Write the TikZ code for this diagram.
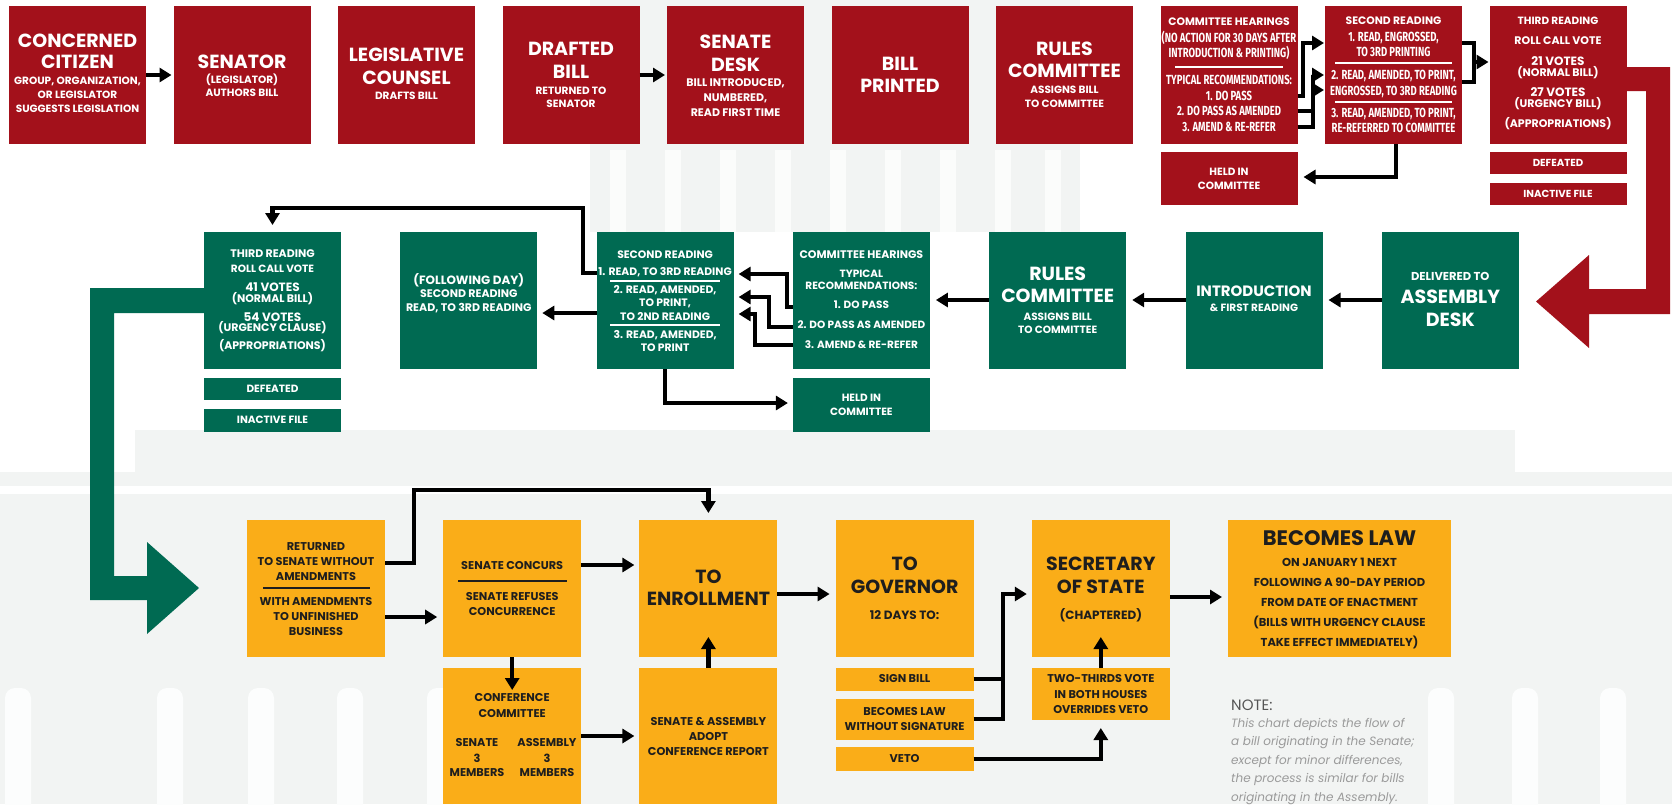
\documentclass[tikz,border=0pt]{standalone}
\usepackage{fontspec}
\setmainfont{Poppins}
\newfontfamily\condf{Fira Sans}[FakeStretch=0.72]
\usetikzlibrary{arrows.meta}
\definecolor{cred}{HTML}{A3111B}
\definecolor{cgreen}{HTML}{006A52}
\definecolor{cyel}{HTML}{FAAD18}
\definecolor{ctxt}{HTML}{1E1E1E}
\definecolor{bgg}{HTML}{F2F4F3}
\definecolor{notec}{HTML}{9A9A9A}
\tikzset{
 box/.style={rectangle,draw=none,inner sep=0pt,outer sep=0pt,anchor=north west},
 arr/.style={line width=4.5pt,-{Triangle[length=12pt,width=14pt]},shorten >=4pt},
 ln/.style={line width=4.5pt},
 sepw/.style={white,line width=1.3pt},
 sepd/.style={ctxt,line width=2pt},
 notel/.style={anchor=base west,inner sep=0pt,text=notec,font=\fontsize{12}{12}\selectfont\itshape},
}
\newcommand\bx[6]{\node[box,fill=#6,minimum width=#4pt,minimum height=#5pt] (#1) at (#2,#3) {};}
\newcommand\tx[6]{\node[anchor=base,inner sep=0pt,text=#5,font=\fontsize{#4}{#4}\selectfont\bfseries] (#1) at (#2,{#3+0.35*#4}) {#6};}
\newcommand\cx[6]{\node[anchor=base,inner sep=0pt,text=#5,font=\condf\fontsize{#4}{#4}\selectfont\bfseries] (#1) at (#2,{#3+0.34*#4}) {#6};}
\def\sm{10.5}
\def\ys{11.3}
\def\cz{13.2}
\begin{document}
\begin{tikzpicture}[x=1pt,y=-1pt]
\useasboundingbox (0,0) rectangle (1672,804);
\fill[white] (0,0) rectangle (1672,804);
% ---------- faint background (capitol silhouette) ----------
\fill[bgg] (590,0) rectangle (1080,232);
\foreach \c in {610,665,720,775,830,885,940,995,1045}{\fill[white!70!bgg] (\c,150) rectangle ++(16,82);}
\fill[bgg] (135,430) rectangle (1515,472);
\fill[bgg] (0,472) rectangle (1672,804);
\fill[white] (0,486) rectangle (1672,494);
\foreach \c in {5,157,248,337,427,1428,1512,1600}{\fill[white!80!bgg,rounded corners=10pt] (\c,688) rectangle ++(26,130);}
% ---------- top row (red) ----------
\bx{cit}{9}{6}{137}{138}{cred}
\bx{sen}{173.5}{6}{137}{138}{cred}
\bx{leg}{338}{6}{137}{138}{cred}
\bx{dra}{502.5}{6}{137}{138}{cred}
\bx{sdk}{667}{6}{137}{138}{cred}
\bx{bpr}{831.5}{6}{137}{138}{cred}
\bx{rul}{996}{6}{137}{138}{cred}
\bx{chr}{1160.5}{6}{137}{138}{cred}
\bx{srr}{1325}{6}{137}{138}{cred}
\bx{trr}{1489.5}{6}{137}{138}{cred}
\bx{hicr}{1160.5}{152}{137}{53}{cred}
\bx{defr}{1489.5}{152}{137}{22}{cred}
\bx{inar}{1489.5}{183}{137}{22}{cred}
% ---------- green row ----------
\bx{gtr}{204}{232}{137}{137}{cgreen}
\bx{gfd}{400.3}{232}{137}{137}{cgreen}
\bx{gsr}{596.6}{232}{137}{137}{cgreen}
\bx{gch}{792.9}{232}{137}{137}{cgreen}
\bx{gru}{989.2}{232}{137}{137}{cgreen}
\bx{gin}{1185.5}{232}{137}{137}{cgreen}
\bx{gad}{1381.8}{232}{137}{137}{cgreen}
\bx{gdef}{204}{378}{137}{22}{cgreen}
\bx{gina}{204}{409}{137}{23}{cgreen}
\bx{ghic}{792.9}{378}{137}{54}{cgreen}
% ---------- yellow row ----------
\bx{yre}{247}{520}{138}{137}{cyel}
\bx{ysc}{443.2}{520}{138}{137}{cyel}
\bx{yen}{639.4}{520}{138}{137}{cyel}
\bx{ygo}{835.6}{520}{138}{137}{cyel}
\bx{yss}{1031.8}{520}{138}{137}{cyel}
\bx{ybl}{1228}{520}{223}{137}{cyel}
\bx{yconf}{443.2}{668}{138}{136}{cyel}
\bx{yadopt}{639.4}{668}{138}{136}{cyel}
\bx{ysign}{835.6}{668}{138}{23}{cyel}
\bx{yblws}{835.6}{699}{138}{41}{cyel}
\bx{yveto}{835.6}{747}{138}{24}{cyel}
\bx{ytwo}{1031.8}{668}{138}{52}{cyel}
% ---------- block arrows ----------
\fill[cred] (trr.east |- 0,67) -- (1670,67) -- (1670,314) -- (1589,314) -- (1589,348) -- (1536,301.5) -- (1589,255) -- (1589,289) -- (1646,289) -- (1646,91) -- (trr.east |- 0,91) -- cycle;
\fill[cgreen] (gtr.west |- 0,288) -- (90,288) -- (90,600) -- (147,600) -- (147,634) -- (199,588) -- (147,542) -- (147,576) -- (114,576) -- (114,313) -- (gtr.west |- 0,313) -- cycle;
% ---------- top row texts ----------
\tx{cit-a}{77.5}{41}{19}{white}{CONCERNED}
\tx{cit-b}{77.5}{62}{19}{white}{CITIZEN}
\tx{cit-c}{77.5}{81}{\sm}{white}{GROUP, ORGANIZATION,}
\tx{cit-d}{77.5}{95}{\sm}{white}{OR LEGISLATOR}
\tx{cit-e}{77.5}{109}{\sm}{white}{SUGGESTS LEGISLATION}
\tx{sen-a}{242}{62}{19}{white}{SENATOR}
\tx{sen-b}{242}{80}{\sm}{white}{(LEGISLATOR)}
\tx{sen-c}{242}{93}{\sm}{white}{AUTHORS BILL}
\tx{leg-a}{406.5}{55}{19}{white}{LEGISLATIVE}
\tx{leg-b}{406.5}{78}{19}{white}{COUNSEL}
\tx{leg-c}{406.5}{96}{\sm}{white}{DRAFTS BILL}
\tx{dra-a}{571}{49}{19}{white}{DRAFTED}
\tx{dra-b}{571}{72}{19}{white}{BILL}
\tx{dra-c}{571}{91}{\sm}{white}{RETURNED TO}
\tx{dra-d}{571}{104}{\sm}{white}{SENATOR}
\tx{sdk-a}{735.5}{42}{19}{white}{SENATE}
\tx{sdk-b}{735.5}{65}{19}{white}{DESK}
\tx{sdk-c}{735.5}{83}{11}{white}{BILL INTRODUCED,}
\tx{sdk-d}{735.5}{98}{11}{white}{NUMBERED,}
\tx{sdk-e}{735.5}{113}{11}{white}{READ FIRST TIME}
\tx{bpr-a}{900}{64}{19}{white}{BILL}
\tx{bpr-b}{900}{86}{19}{white}{PRINTED}
\tx{rul-a}{1064.5}{49}{19}{white}{RULES}
\tx{rul-b}{1064.5}{71}{19}{white}{COMMITTEE}
\tx{rul-c}{1064.5}{90}{\sm}{white}{ASSIGNS BILL}
\tx{rul-d}{1064.5}{104}{\sm}{white}{TO COMMITTEE}
\tx{chr-a}{1229}{22}{10.8}{white}{COMMITTEE HEARINGS}
\cx{chr-b}{1229}{38}{\cz}{white}{(NO ACTION FOR 30 DAYS AFTER}
\cx{chr-c}{1229}{53}{\cz}{white}{INTRODUCTION \& PRINTING)}
\draw[sepw] (1175,67) -- (1283,67);
\cx{chr-d}{1229}{80}{\cz}{white}{TYPICAL RECOMMENDATIONS:}
\cx{chr-e}{1229}{96}{\cz}{white}{1. DO PASS}
\cx{chr-f}{1229}{111}{\cz}{white}{2. DO PASS AS AMENDED}
\cx{chr-g}{1229}{127}{\cz}{white}{3. AMEND \& RE-REFER}
\tx{srr-a}{1393.5}{21}{10.8}{white}{SECOND READING}
\cx{srr-b}{1393.5}{37}{\cz}{white}{1. READ, ENGROSSED,}
\cx{srr-c}{1393.5}{52}{\cz}{white}{TO 3RD PRINTING}
\draw[sepw] (1335,63) -- (1452,63);
\cx{srr-d}{1393.5}{75}{\cz}{white}{2. READ, AMENDED, TO PRINT,}
\cx{srr-e}{1393.5}{91}{\cz}{white}{ENGROSSED, TO 3RD READING}
\draw[sepw] (1335,102) -- (1452,102);
\cx{srr-f}{1393.5}{113}{\cz}{white}{3. READ, AMENDED, TO PRINT,}
\cx{srr-g}{1393.5}{128}{\cz}{white}{RE-REFERRED TO COMMITTEE}
\tx{trr-a}{1558}{21}{10.5}{white}{THIRD READING}
\tx{trr-b}{1558}{41}{11}{white}{ROLL CALL VOTE}
\tx{trr-c}{1558}{61}{12}{white}{21 VOTES}
\tx{trr-d}{1558}{73}{11}{white}{(NORMAL BILL)}
\tx{trr-e}{1558}{92}{12}{white}{27 VOTES}
\tx{trr-f}{1558}{104}{11}{white}{(URGENCY BILL)}
\tx{trr-g}{1558}{124}{11}{white}{(APPROPRIATIONS)}
\tx{hicr-a}{1229}{172}{\sm}{white}{HELD IN}
\tx{hicr-b}{1229}{186}{\sm}{white}{COMMITTEE}
\tx{defr-a}{1558}{163}{10.2}{white}{DEFEATED}
\tx{inar-a}{1558}{194}{10.2}{white}{INACTIVE FILE}
% ---------- green texts ----------
\tx{gtr-a}{272.5}{254}{11}{white}{THIRD READING}
\tx{gtr-b}{272.5}{269}{10.5}{white}{ROLL CALL VOTE}
\tx{gtr-c}{272.5}{287}{12}{white}{41 VOTES}
\tx{gtr-d}{272.5}{299}{11}{white}{(NORMAL BILL)}
\tx{gtr-e}{272.5}{317}{12}{white}{54 VOTES}
\tx{gtr-f}{272.5}{328}{11}{white}{(URGENCY CLAUSE)}
\tx{gtr-g}{272.5}{346}{11}{white}{(APPROPRIATIONS)}
\tx{gdef-a}{272.5}{389}{10.5}{white}{DEFEATED}
\tx{gina-a}{272.5}{420}{10.5}{white}{INACTIVE FILE}
\tx{gfd-a}{468.8}{280}{12}{white}{(FOLLOWING DAY)}
\tx{gfd-b}{468.8}{294}{11}{white}{SECOND READING}
\tx{gfd-c}{468.8}{308}{11}{white}{READ, TO 3RD READING}
\tx{gsr-a}{665.1}{255}{10.8}{white}{SECOND READING}
\tx{gsr-b}{665.1}{272}{10.8}{white}{1. READ, TO 3RD READING}
\draw[sepw] (610,281) -- (720,281);
\tx{gsr-c}{665.1}{290}{10.8}{white}{2. READ, AMENDED,}
\tx{gsr-d}{665.1}{303}{10.8}{white}{TO PRINT,}
\tx{gsr-e}{665.1}{317}{10.8}{white}{TO 2ND READING}
\draw[sepw] (610,325) -- (720,325);
\tx{gsr-f}{665.1}{335}{10.8}{white}{3. READ, AMENDED,}
\tx{gsr-g}{665.1}{348}{10.8}{white}{TO PRINT}
\tx{gch-a}{861.4}{255}{11}{white}{COMMITTEE HEARINGS}
\tx{gch-b}{861.4}{274}{\sm}{white}{TYPICAL}
\tx{gch-c}{861.4}{286}{\sm}{white}{RECOMMENDATIONS:}
\tx{gch-d}{861.4}{305}{\sm}{white}{1. DO PASS}
\tx{gch-e}{861.4}{325}{\sm}{white}{2. DO PASS AS AMENDED}
\tx{gch-f}{861.4}{345}{\sm}{white}{3. AMEND \& RE-REFER}
\tx{gru-a}{1057.7}{274}{19}{white}{RULES}
\tx{gru-b}{1057.7}{296}{19}{white}{COMMITTEE}
\tx{gru-c}{1057.7}{317}{\sm}{white}{ASSIGNS BILL}
\tx{gru-d}{1057.7}{330}{\sm}{white}{TO COMMITTEE}
\tx{gin-a}{1254}{291}{15}{white}{INTRODUCTION}
\tx{gin-b}{1254}{308}{\sm}{white}{\& FIRST READING}
\tx{gad-a}{1450.3}{276}{11.5}{white}{DELIVERED TO}
\tx{gad-b}{1450.3}{297}{19}{white}{ASSEMBLY}
\tx{gad-c}{1450.3}{320}{19}{white}{DESK}
\tx{ghic-a}{861.4}{398}{\sm}{white}{HELD IN}
\tx{ghic-b}{861.4}{412}{\sm}{white}{COMMITTEE}
% ---------- yellow texts ----------
\tx{yre-a}{316}{547}{\ys}{ctxt}{RETURNED}
\tx{yre-b}{316}{562}{\ys}{ctxt}{TO SENATE WITHOUT}
\tx{yre-c}{316}{577}{\ys}{ctxt}{AMENDMENTS}
\draw[sepd] (263,588) -- (370,588);
\tx{yre-d}{316}{602}{\ys}{ctxt}{WITH AMENDMENTS}
\tx{yre-e}{316}{617}{\ys}{ctxt}{TO UNFINISHED}
\tx{yre-f}{316}{632}{\ys}{ctxt}{BUSINESS}
\tx{ysc-a}{512.2}{566}{\ys}{ctxt}{SENATE CONCURS}
\draw[sepd] (458,581) -- (567,581);
\tx{ysc-b}{512.2}{597}{\ys}{ctxt}{SENATE REFUSES}
\tx{ysc-c}{512.2}{612}{\ys}{ctxt}{CONCURRENCE}
\tx{yen-a}{708.4}{577}{19}{ctxt}{TO}
\tx{yen-b}{708.4}{599}{19}{ctxt}{ENROLLMENT}
\tx{ygo-a}{904.6}{564}{19}{ctxt}{TO}
\tx{ygo-b}{904.6}{587}{19}{ctxt}{GOVERNOR}
\tx{ygo-c}{904.6}{615}{12}{ctxt}{12 DAYS TO:}
\tx{yss-a}{1100.8}{564}{19}{ctxt}{SECRETARY}
\tx{yss-b}{1100.8}{587}{19}{ctxt}{OF STATE}
\tx{yss-c}{1100.8}{615}{12}{ctxt}{(CHAPTERED)}
\tx{ybl-a}{1339.5}{538}{21}{ctxt}{BECOMES LAW}
\tx{ybl-b}{1339.5}{562}{11.5}{ctxt}{ON JANUARY 1 NEXT}
\tx{ybl-c}{1339.5}{582}{11.5}{ctxt}{FOLLOWING A 90-DAY PERIOD}
\tx{ybl-d}{1339.5}{602}{11.5}{ctxt}{FROM DATE OF ENACTMENT}
\tx{ybl-e}{1339.5}{622}{11.5}{ctxt}{(BILLS WITH URGENCY CLAUSE}
\tx{ybl-f}{1339.5}{642}{11.5}{ctxt}{TAKE EFFECT IMMEDIATELY)}
\tx{yconf-a}{512.2}{698}{\ys}{ctxt}{CONFERENCE}
\tx{yconf-b}{512.2}{714}{\ys}{ctxt}{COMMITTEE}
\tx{yconf-c}{477}{743}{\ys}{ctxt}{SENATE}
\tx{yconf-d}{477}{759}{\ys}{ctxt}{3}
\tx{yconf-e}{477}{773}{\ys}{ctxt}{MEMBERS}
\tx{yconf-f}{547}{743}{\ys}{ctxt}{ASSEMBLY}
\tx{yconf-g}{547}{759}{\ys}{ctxt}{3}
\tx{yconf-h}{547}{773}{\ys}{ctxt}{MEMBERS}
\tx{yadopt-a}{708.4}{722}{\ys}{ctxt}{SENATE \& ASSEMBLY}
\tx{yadopt-b}{708.4}{737}{\ys}{ctxt}{ADOPT}
\tx{yadopt-c}{708.4}{752}{\ys}{ctxt}{CONFERENCE REPORT}
\tx{ysign-a}{904.6}{679}{\ys}{ctxt}{SIGN BILL}
\tx{yblws-a}{904.6}{712}{\ys}{ctxt}{BECOMES LAW}
\tx{yblws-b}{904.6}{727}{\ys}{ctxt}{WITHOUT SIGNATURE}
\tx{yveto-a}{904.6}{759}{\ys}{ctxt}{VETO}
\tx{ytwo-a}{1100.8}{679}{\ys}{ctxt}{TWO-THIRDS VOTE}
\tx{ytwo-b}{1100.8}{695}{\ys}{ctxt}{IN BOTH HOUSES}
\tx{ytwo-c}{1100.8}{710}{\ys}{ctxt}{OVERRIDES VETO}
% note
\node[anchor=base west,inner sep=0pt,text=notec!55!black,font=\fontsize{15}{15}\selectfont] (note-a) at (1231,710) {NOTE:};
\node[notel] (note-b) at (1231,727) {This chart depicts the flow of};
\node[notel] (note-c) at (1231,745.5) {a bill originating in the Senate;};
\node[notel] (note-d) at (1231,764) {except for minor differences,};
\node[notel] (note-e) at (1231,782.5) {the process is similar for bills};
\node[notel] (note-f) at (1231,801) {originating in the Assembly.};
% ---------- connectors: top ----------
\draw[arr,shorten >=2pt] (cit.east) -- (sen.west);
\draw[arr,shorten >=2pt] (dra.east) -- (sdk.west);
\draw[arr,shorten >=1pt] (chr.east |- 0,96) -- (1303,96) -- (1303,43) -- (srr.west |- 0,43);
\draw[arr,shorten >=1pt] (chr.east |- 0,111) -- (1313,111) -- (1313,75) -- (srr.west |- 0,75);
\draw[arr,shorten >=1pt] (chr.east |- 0,127) -- (1313,127) -- (1313,90) -- (srr.west |- 0,90);
\coordinate (brk) at (1474,62);
\draw[ln] (srr.east |- 0,43) -- (brk |- 0,43) -- (brk |- 0,82) -- (srr.east |- 0,82);
\draw[arr,shorten >=1pt] (brk) -- (trr.west |- brk);
\draw[arr,shorten >=6pt] (srr.south -| 1396,0) -- (1396,177) -- (hicr.east |- 0,177);
% ---------- connectors: green ----------
\draw[arr,shorten >=6pt] (gad.west |- 0,300) -- (gin.east |- 0,300);
\draw[arr,shorten >=6pt] (gin.west |- 0,300) -- (gru.east |- 0,300);
\draw[arr,shorten >=6pt] (gru.west |- 0,300) -- (gch.east |- 0,300);
\draw[arr,shorten >=5pt] (gch.west |- 0,307) -- (787,307) -- (787,274) -- (gsr.east |- 0,274);
\draw[arr,shorten >=5pt] (gch.west |- 0,327) -- (769,327) -- (769,297) -- (gsr.east |- 0,297);
\draw[arr,shorten >=5pt] (gch.west |- 0,345) -- (755,345) -- (755,314) -- (gsr.east |- 0,314);
\draw[arr,shorten >=5pt] (gsr.west |- 0,313) -- (gfd.east |- 0,313);
\draw[arr,shorten >=7pt] (gsr.west |- 0,273) -- (583,273) -- (583,208) -- (gtr.north |- 0,208) -- (gtr.north);
\draw[arr,shorten >=5pt] (gsr.south) -- (gsr.south |- 0,403) -- (ghic.west |- 0,403);
% ---------- connectors: yellow ----------
\draw[arr,shorten >=7pt] (yre.east |- 0,563) -- (414,563) -- (414,490) -- (yen.north |- 0,490) -- (yen.north);
\draw[arr,shorten >=6pt] (yre.east |- 0,617) -- (ysc.west |- 0,617);
\draw[arr,shorten >=5pt] (ysc.east |- 0,565) -- (yen.west |- 0,565);
\draw[arr,shorten >=0pt] (ysc.south) -- (ysc.south |- 0,690);
\draw[arr,shorten >=5pt] (yconf.east |- 0,736) -- (yadopt.west |- 0,736);
\draw[arr,shorten >=0pt] (yadopt.north) -- (yadopt.north |- 0,637);
\draw[arr,shorten >=6pt] (yen.east |- 0,594) -- (ygo.west |- 0,594);
\draw[arr,shorten >=5pt] (ysign.east |- 0,679) -- (1003,679) -- (1003,594) -- (yss.west |- 0,594);
\draw[ln] (yblws.east |- 0,719) -- (1003,719) -- (1003,677);
\draw[arr,shorten >=8pt] (yveto.east |- 0,759) -- (ytwo.south |- 0,759) -- (ytwo.south);
\draw[arr,shorten >=0pt] (ytwo.north) -- (ytwo.north |- 0,637);
\draw[arr,shorten >=6pt] (yss.east |- 0,597) -- (ybl.west |- 0,597);
\end{tikzpicture}
\end{document}
